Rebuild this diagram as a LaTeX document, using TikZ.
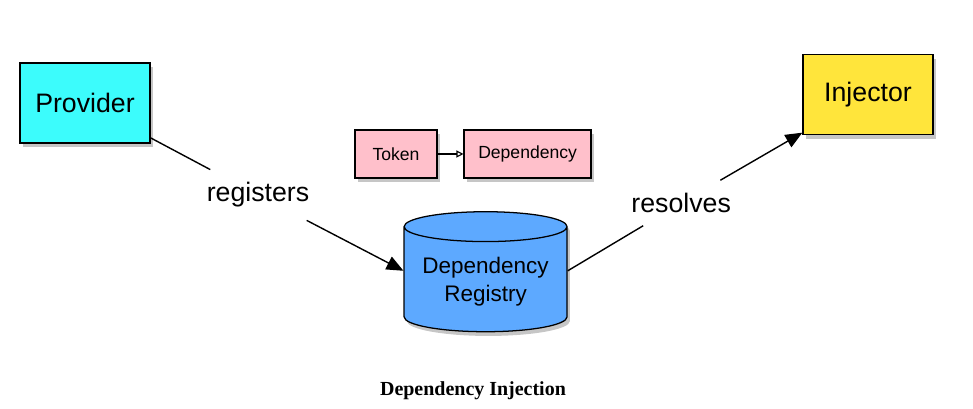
\documentclass[tikz,border=0pt]{standalone}
\usepackage{fontspec}
\setsansfont{Liberation Sans}
\newfontfamily\capfont{Liberation Serif}
\usetikzlibrary{shapes.geometric,shadows,arrows.meta}
\definecolor{provcyan}{HTML}{3CFCFC}
\definecolor{injyellow}{HTML}{FFE53B}
\definecolor{tokpink}{HTML}{FFC0CB}
\definecolor{regblue}{HTML}{5DA9FF}
\begin{document}
\begin{tikzpicture}[
		box/.style={draw=black, line width=0.9pt, font=\sffamily, drop shadow={opacity=0.45, shadow xshift=2pt, shadow yshift=-3pt}},
		bigbox/.style={box, minimum width=3.25cm, minimum height=2cm, font=\sffamily\fontsize{19}{22}\selectfont},
		smallbox/.style={box, fill=tokpink, minimum height=1.2cm, font=\sffamily\fontsize{12.5}{15}\selectfont},
		lbl/.style={font=\sffamily\fontsize{19}{22}\selectfont, inner sep=9pt},
		link/.style={line width=1pt},
		arr/.style={link, -{Triangle[length=12pt, width=10pt]}}
	]
			\useasboundingbox (0,0) rectangle (24.325,10.225);
			\node[bigbox, fill=provcyan] (prov) at (2.125,7.65) {Provider};
			\node[bigbox, fill=injyellow] (inj) at (21.7,7.86) {Injector};
			\node[smallbox, minimum width=2.05cm] (tok) at (9.9,6.375) {Token};
			\node[smallbox, minimum width=3.175cm] (dep) at (13.19,6.375) {Dependency};
			\node[box, cylinder, shape border rotate=90, aspect=0.22, fill=regblue, minimum width=4.075cm, minimum height=3cm, align=center, font=\sffamily\fontsize{16}{20}\selectfont] (reg) at (12.14,3.175) {Dependency\\Registry};
			\coordinate (regin) at ([yshift=0.28cm]reg.west);
			\coordinate (regout) at ([yshift=0.28cm]reg.east);
			\node[lbl] (regs) at (6.45,5.35) {registers};
			\node[lbl] (res) at (17.03,5.15) {resolves};
			\draw[link] (prov) -- (regs);
			\draw[arr] (regs) -- (regin);
			\draw[link] (regout) -- (res);
			\draw[arr] (res) -- (inj);
			\draw[line width=0.8pt, -{Triangle[open, length=5pt, width=5pt]}] (tok) -- (dep);
			\node[font=\capfont\fontsize{14.2}{17}\selectfont\bfseries] (cap) at (11.825,0.45) {Dependency Injection};
		\end{tikzpicture}
\end{document}
